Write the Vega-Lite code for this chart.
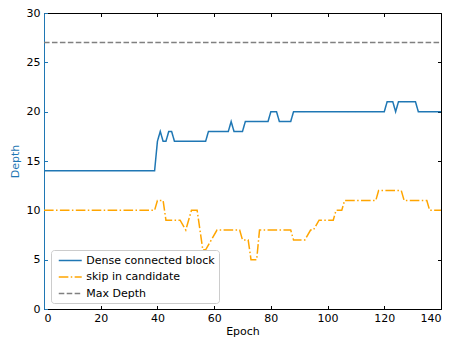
{
  "$schema": "https://vega.github.io/schema/vega-lite/v6.json",
  "autosize": {"type": "none"},
  "padding": {"left": 44, "top": 13, "right": 11, "bottom": 28},
  "width": 397,
  "height": 296,
  "config": {
    "view": {"stroke": null},
    "font": "DejaVu Sans",
    "axis": {"grid": false, "labelFont": "DejaVu Sans", "titleFont": "DejaVu Sans", "labelFontSize": 11, "titleFontSize": 11, "labelColor": "#000", "titleColor": "#000", "titleFontWeight": "normal", "tickSize": -3.5, "domainWidth": 1, "tickWidth": 1}
  },
  "data": {"values": [
    {"epoch": 0, "depth": 14, "series": "Dense connected block"},
    {"epoch": 39, "depth": 14, "series": "Dense connected block"},
    {"epoch": 40, "depth": 17, "series": "Dense connected block"},
    {"epoch": 41, "depth": 18, "series": "Dense connected block"},
    {"epoch": 42, "depth": 17, "series": "Dense connected block"},
    {"epoch": 43, "depth": 17, "series": "Dense connected block"},
    {"epoch": 44, "depth": 18, "series": "Dense connected block"},
    {"epoch": 45, "depth": 18, "series": "Dense connected block"},
    {"epoch": 46, "depth": 17, "series": "Dense connected block"},
    {"epoch": 57, "depth": 17, "series": "Dense connected block"},
    {"epoch": 58, "depth": 18, "series": "Dense connected block"},
    {"epoch": 65, "depth": 18, "series": "Dense connected block"},
    {"epoch": 66, "depth": 19, "series": "Dense connected block"},
    {"epoch": 67, "depth": 18, "series": "Dense connected block"},
    {"epoch": 70, "depth": 18, "series": "Dense connected block"},
    {"epoch": 71, "depth": 19, "series": "Dense connected block"},
    {"epoch": 79, "depth": 19, "series": "Dense connected block"},
    {"epoch": 80, "depth": 20, "series": "Dense connected block"},
    {"epoch": 82, "depth": 20, "series": "Dense connected block"},
    {"epoch": 83, "depth": 19, "series": "Dense connected block"},
    {"epoch": 87, "depth": 19, "series": "Dense connected block"},
    {"epoch": 88, "depth": 20, "series": "Dense connected block"},
    {"epoch": 120, "depth": 20, "series": "Dense connected block"},
    {"epoch": 121, "depth": 21, "series": "Dense connected block"},
    {"epoch": 123, "depth": 21, "series": "Dense connected block"},
    {"epoch": 124, "depth": 20, "series": "Dense connected block"},
    {"epoch": 125, "depth": 21, "series": "Dense connected block"},
    {"epoch": 131, "depth": 21, "series": "Dense connected block"},
    {"epoch": 132, "depth": 20, "series": "Dense connected block"},
    {"epoch": 140, "depth": 20, "series": "Dense connected block"},
    {"epoch": 0, "depth": 10, "series": "skip in candidate"},
    {"epoch": 39, "depth": 10, "series": "skip in candidate"},
    {"epoch": 40, "depth": 11, "series": "skip in candidate"},
    {"epoch": 42, "depth": 11, "series": "skip in candidate"},
    {"epoch": 43, "depth": 9, "series": "skip in candidate"},
    {"epoch": 48, "depth": 9, "series": "skip in candidate"},
    {"epoch": 50, "depth": 8, "series": "skip in candidate"},
    {"epoch": 52, "depth": 10, "series": "skip in candidate"},
    {"epoch": 54, "depth": 10, "series": "skip in candidate"},
    {"epoch": 56, "depth": 6, "series": "skip in candidate"},
    {"epoch": 57, "depth": 6, "series": "skip in candidate"},
    {"epoch": 59, "depth": 7, "series": "skip in candidate"},
    {"epoch": 61, "depth": 8, "series": "skip in candidate"},
    {"epoch": 69, "depth": 8, "series": "skip in candidate"},
    {"epoch": 70, "depth": 7, "series": "skip in candidate"},
    {"epoch": 72, "depth": 7, "series": "skip in candidate"},
    {"epoch": 73, "depth": 5, "series": "skip in candidate"},
    {"epoch": 75, "depth": 5, "series": "skip in candidate"},
    {"epoch": 76, "depth": 8, "series": "skip in candidate"},
    {"epoch": 87, "depth": 8, "series": "skip in candidate"},
    {"epoch": 88, "depth": 7, "series": "skip in candidate"},
    {"epoch": 92, "depth": 7, "series": "skip in candidate"},
    {"epoch": 94, "depth": 8, "series": "skip in candidate"},
    {"epoch": 95, "depth": 8, "series": "skip in candidate"},
    {"epoch": 97, "depth": 9, "series": "skip in candidate"},
    {"epoch": 102, "depth": 9, "series": "skip in candidate"},
    {"epoch": 103, "depth": 10, "series": "skip in candidate"},
    {"epoch": 105, "depth": 10, "series": "skip in candidate"},
    {"epoch": 106, "depth": 11, "series": "skip in candidate"},
    {"epoch": 117, "depth": 11, "series": "skip in candidate"},
    {"epoch": 118, "depth": 12, "series": "skip in candidate"},
    {"epoch": 126, "depth": 12, "series": "skip in candidate"},
    {"epoch": 127, "depth": 11, "series": "skip in candidate"},
    {"epoch": 135, "depth": 11, "series": "skip in candidate"},
    {"epoch": 136, "depth": 10, "series": "skip in candidate"},
    {"epoch": 140, "depth": 10, "series": "skip in candidate"},
    {"epoch": 0, "depth": 27, "series": "Max Depth"},
    {"epoch": 140, "depth": 27, "series": "Max Depth"}
  ]},
  "layer": [
    {
      "mark": {"type": "line", "strokeWidth": 1.5, "clip": true},
      "encoding": {
        "x": {"field": "epoch", "type": "quantitative", "scale": {"domain": [0, 140], "nice": false, "zero": false},
              "axis": {"orient": "bottom", "title": "Epoch", "values": [0, 20, 40, 60, 80, 100, 120, 140], "domainColor": "#000", "tickColor": "#000", "labelPadding": 6.5, "titlePadding": 2}},
        "y": {"field": "depth", "type": "quantitative", "scale": {"domain": [0, 30], "nice": false},
              "axis": {"orient": "left", "title": "Depth", "titleColor": "#1f77b4", "values": [0, 5, 10, 15, 20, 25, 30], "domainColor": "#1f77b4", "tickColor": "#1f77b4", "labelPadding": 7.5, "titlePadding": 6}},
        "color": {"field": "series", "type": "nominal",
                  "scale": {"domain": ["Dense connected block", "skip in candidate", "Max Depth"], "range": ["#1f77b4", "#ffa500", "#808080"]},
                  "legend": {"title": null, "orient": "bottom-left", "offset": 6.5, "symbolType": "M-2,0H2", "symbolSize": 132, "symbolStrokeWidth": 1.5, "symbolOffset": 8.75, "labelFontSize": 11, "labelFont": "DejaVu Sans", "labelColor": "#000", "rowPadding": 4.5, "padding": 4, "fillColor": "rgba(255,255,255,0.8)", "strokeColor": "#cccccc", "cornerRadius": 3, "labelOffset": 9.5}},
        "strokeDash": {"field": "series", "type": "nominal",
                       "scale": {"domain": ["Dense connected block", "skip in candidate", "Max Depth"], "range": [[1, 0], [9.6, 2.4, 1.5, 2.4], [5.55, 2.4]]},
                       "legend": null},
        "order": {"field": "epoch", "type": "quantitative"}
      }
    },
    {
      "mark": {"type": "point", "opacity": 0},
      "encoding": {
        "x": {"field": "epoch", "type": "quantitative", "axis": {"orient": "top", "labels": false, "title": null, "values": [0, 20, 40, 60, 80, 100, 120, 140], "domainColor": "#000", "tickColor": "#000"}},
        "y": {"field": "depth", "type": "quantitative", "axis": {"orient": "right", "labels": false, "title": null, "values": [0, 5, 10, 15, 20, 25, 30], "domainColor": "#000", "tickColor": "#000"}}
      }
    }
  ],
  "resolve": {"axis": {"x": "independent", "y": "independent"}}
}
